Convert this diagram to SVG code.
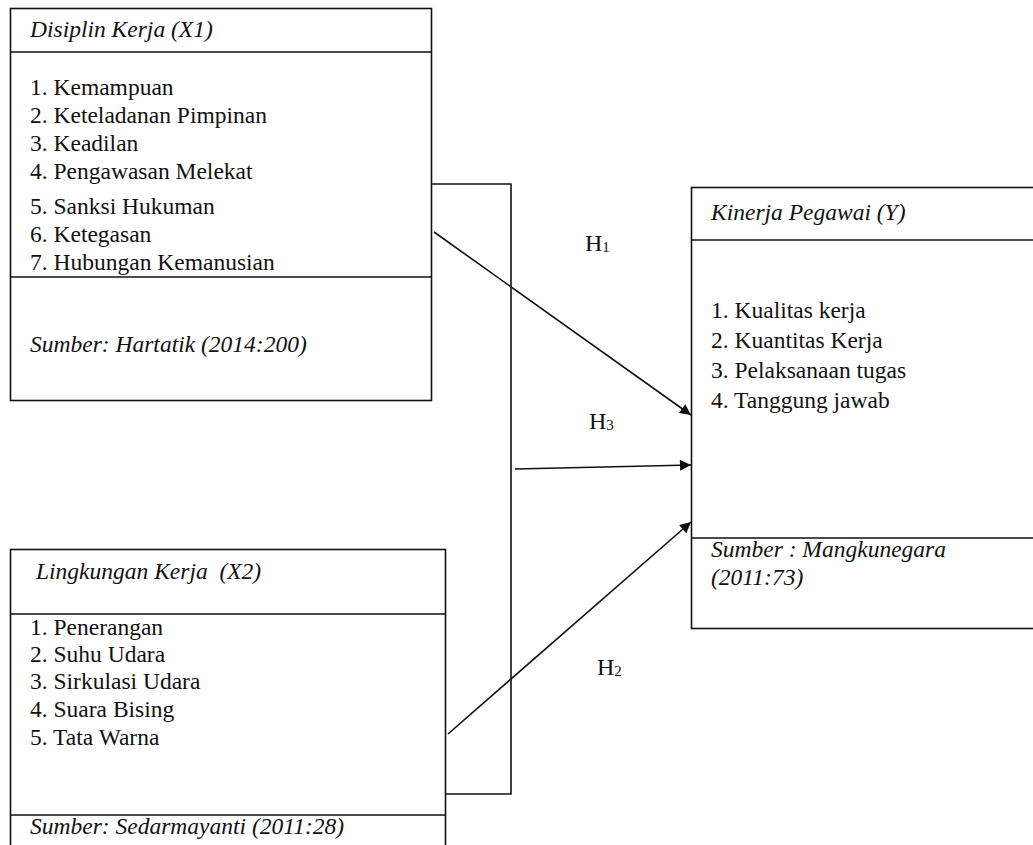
<svg xmlns="http://www.w3.org/2000/svg" width="1033" height="845" viewBox="0 0 1033 845">
<defs>
<style>
.box{fill:none;stroke:#111;stroke-width:1.6}
.ln{fill:none;stroke:#111;stroke-width:1.6}
text{font-family:'Liberation Serif','Times New Roman','DejaVu Serif',serif;fill:#111}
.t{font-size:23.5px}
.i{font-style:italic}
.h{font-size:24px}
.sub{font-size:15px}
</style>
<marker id="arr" viewBox="0 0 10 10" refX="10" refY="5" markerWidth="12" markerHeight="11" markerUnits="userSpaceOnUse" orient="auto">
<path d="M0,0 L10,5 L0,10 z" fill="#111"/>
</marker>
</defs>
<rect width="1033" height="845" fill="#fff"/>
<g id="connectors">
<polyline class="ln" points="432,184 511,184 511,794 446,794"/>
<line class="ln" x1="434" y1="232" x2="691" y2="415" marker-end="url(#arr)"/>
<line class="ln" x1="515" y1="469" x2="691" y2="465" marker-end="url(#arr)"/>
<line class="ln" x1="448" y1="734" x2="691" y2="522" marker-end="url(#arr)"/>
</g>
<g id="x1">
<rect class="box" x="10.5" y="8.5" width="421" height="392"/>
<line class="ln" x1="10.5" y1="52" x2="431.5" y2="52"/>
<line class="ln" x1="10.5" y1="277" x2="431.5" y2="277"/>
<text class="t i" x="30" y="37">Disiplin Kerja (X1)</text>
<text class="t" x="30" y="95">1. Kemampuan</text>
<text class="t" x="30" y="123">2. Keteladanan Pimpinan</text>
<text class="t" x="30" y="151">3. Keadilan</text>
<text class="t" x="30" y="179">4. Pengawasan Melekat</text>
<text class="t" x="30" y="214">5. Sanksi Hukuman</text>
<text class="t" x="30" y="242">6. Ketegasan</text>
<text class="t" x="30" y="270">7. Hubungan Kemanusian</text>
<text class="t i" x="30" y="352">Sumber: Hartatik (2014:200)</text>
</g>
<g id="x2">
<rect class="box" x="10.5" y="549.5" width="435" height="310"/>
<line class="ln" x1="10.5" y1="614" x2="445.5" y2="614"/>
<line class="ln" x1="10.5" y1="815" x2="445.5" y2="815"/>
<text class="t i" x="36" y="579" xml:space="preserve">Lingkungan Kerja  (X2)</text>
<text class="t" x="30" y="635">1. Penerangan</text>
<text class="t" x="30" y="662">2. Suhu Udara</text>
<text class="t" x="30" y="689">3. Sirkulasi Udara</text>
<text class="t" x="30" y="717">4. Suara Bising</text>
<text class="t" x="30" y="745">5. Tata Warna</text>
<text class="t i" x="30" y="834">Sumber: Sedarmayanti (2011:28)</text>
</g>
<g id="y">
<rect class="box" x="691.5" y="187.5" width="350" height="441"/>
<line class="ln" x1="691.5" y1="240" x2="1040" y2="240"/>
<line class="ln" x1="691.5" y1="538" x2="1040" y2="538"/>
<text class="t i" x="711" y="220">Kinerja Pegawai (Y)</text>
<text class="t" x="711" y="318">1. Kualitas kerja</text>
<text class="t" x="711" y="348">2. Kuantitas Kerja</text>
<text class="t" x="711" y="378">3. Pelaksanaan tugas</text>
<text class="t" x="711" y="408">4. Tanggung jawab</text>
<text class="t i" x="711" y="557">Sumber : Mangkunegara</text>
<text class="t i" x="711" y="585">(2011:73)</text>
</g>
<g id="labels">
<text class="h" x="585" y="251">H<tspan class="sub" dy="1">1</tspan></text>
<text class="h" x="589" y="429">H<tspan class="sub" dy="1">3</tspan></text>
<text class="h" x="597" y="675">H<tspan class="sub" dy="1">2</tspan></text>
</g>
</svg>
